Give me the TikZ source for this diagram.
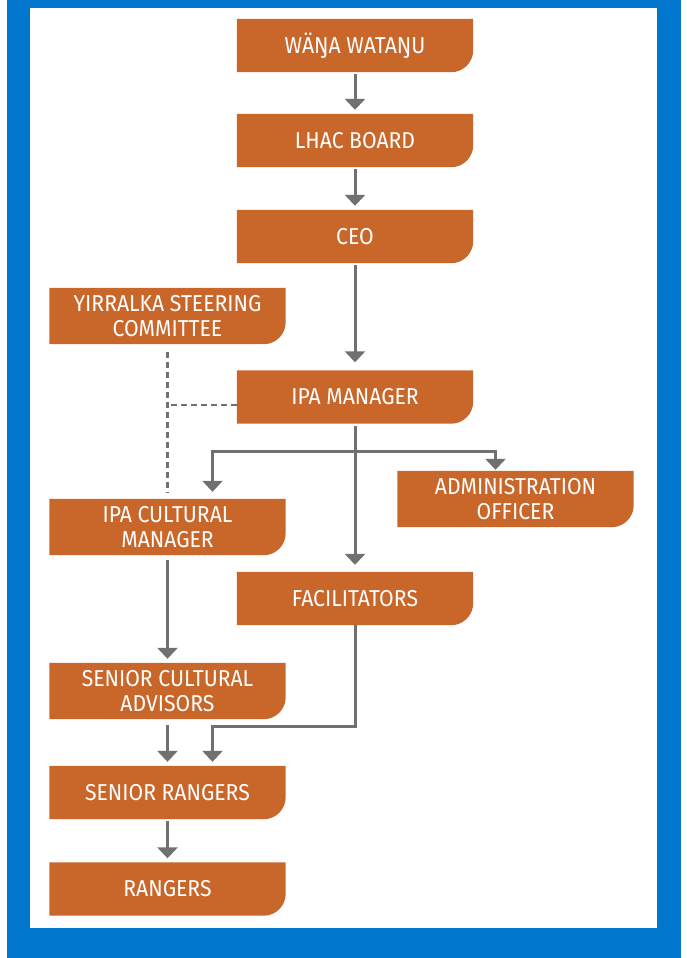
\documentclass[tikz,border=0pt]{standalone}
\usepackage{fontspec}
\setmainfont{Fira Sans}[FakeStretch=0.92]
\usetikzlibrary{arrows.meta,backgrounds}

\definecolor{boxorange}{RGB}{201,103,42}
\definecolor{framblue}{RGB}{0,119,204}
\definecolor{linegray}{RGB}{112,112,112}

\tikzset{
    orgbox/.style={text=white, minimum width=236pt, minimum height=53pt,
        inner sep=0pt, align=center, font=\fontsize{23}{25}\selectfont},
    tallbox/.style={orgbox, minimum height=56pt},
    arr/.style={linegray, line width=3pt, -{Triangle[width=20pt,length=11pt]},
        shorten <=2pt, shorten >=4pt},
    dashline/.style={linegray, line width=2.5pt, dash pattern=on 6pt off 4pt}
}

\begin{document}
\begin{tikzpicture}[x=1pt, y=1pt]
    \useasboundingbox (0,0) rectangle (686,-958);

    \node[orgbox] (wana) at (355,-45.5) {WÄŊA WATAŊU};
    \node[orgbox] (lhac) at (355,-140.5) {LHAC BOARD};
    \node[orgbox] (ceo) at (355,-236.5) {CEO};
    \node[tallbox] (yirr) at (167.5,-316) {YIRRALKA STEERING\\COMMITTEE};
    \node[orgbox] (ipam) at (355,-397) {IPA MANAGER};
    \node[tallbox] (admin) at (515.5,-499) {ADMINISTRATION\\OFFICER};
    \node[tallbox] (ipac) at (167.5,-527) {IPA CULTURAL\\MANAGER};
    \node[orgbox] (fac) at (355,-598.5) {FACILITATORS};
    \node[tallbox] (sca) at (167.5,-691) {SENIOR CULTURAL\\ADVISORS};
    \node[orgbox] (sr) at (167.5,-792.5) {SENIOR RANGERS};
    \node[orgbox] (rng) at (167.5,-889) {RANGERS};

    \begin{scope}[on background layer]
        \fill[framblue] (7,0) rectangle (681,-958);
        \fill[white] (30,-8) rectangle (657,-928);
        \foreach \n in {wana,lhac,ceo,yirr,ipam,admin,ipac,fac,sca,sr,rng}
            \fill[boxorange] (\n.north west) -- (\n.north east)
                -- ([yshift=22pt]\n.south east) arc[start angle=0, end angle=-90, radius=22pt]
                -- (\n.south west) -- cycle;
    \end{scope}

    \draw[arr] (wana) -- (lhac);
    \draw[arr] (lhac) -- (ceo);
    \draw[arr, shorten >=8pt] (ceo) -- (ipam);
    \draw[arr, shorten >=7pt] (ipam) -- (fac);

    \coordinate (split) at (355,-451);
    \draw[arr, shorten <=0pt, shorten >=7pt] (split) -| ([xshift=45pt]ipac.north);
    \draw[arr, shorten <=0pt, shorten >=1pt] (split) -| ([xshift=-20pt]admin.north);

    \draw[dashline, shorten <=8pt, shorten >=6pt] (yirr.south) -- (ipac.north);
    \draw[dashline] ([yshift=-8pt]ipam.west) -- ([yshift=-8pt]ipam.west -| yirr.south);

    \draw[arr, shorten <=5pt] (ipac) -- (sca);
    \draw[arr, shorten <=6pt] (sca) -- (sr);
    \draw[arr, shorten <=0pt] (fac.south) -- ++(0,-101) -| ([xshift=45pt]sr.north);
    \draw[arr] (sr) -- (rng);
\end{tikzpicture}
\end{document}
